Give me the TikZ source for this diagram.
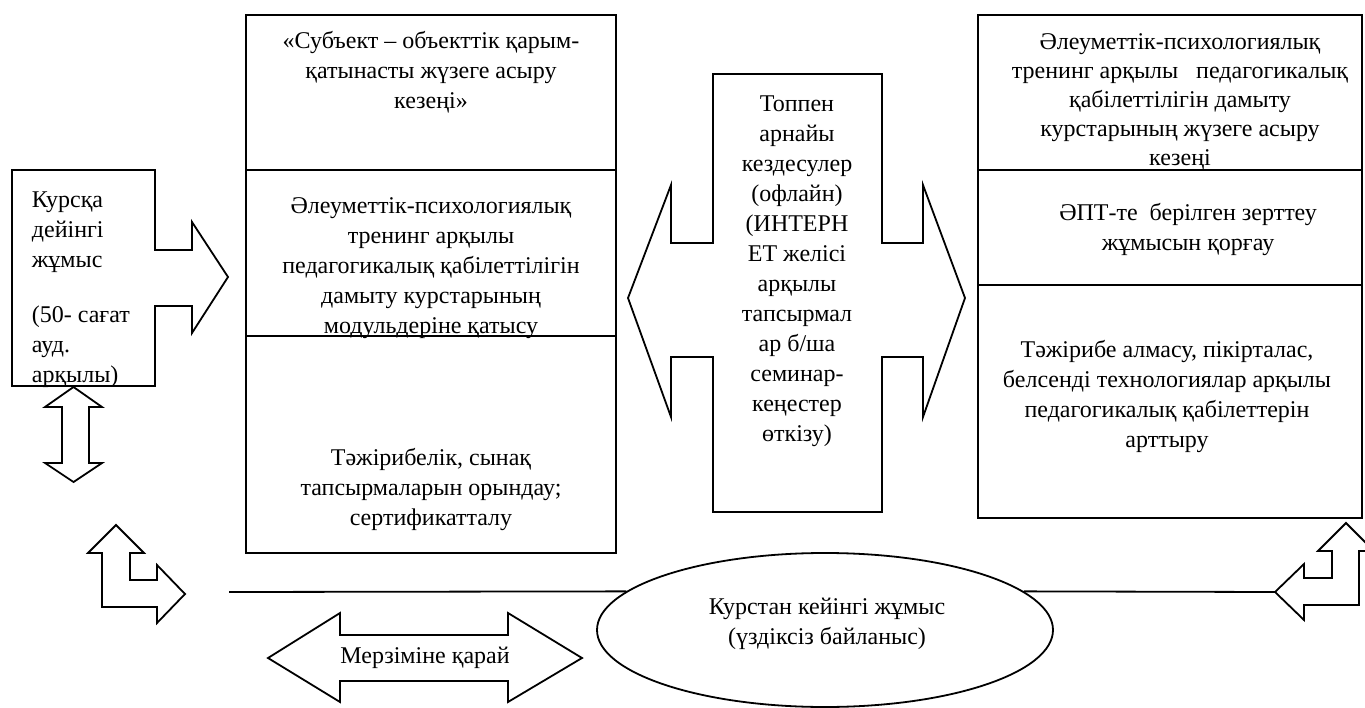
\documentclass[tikz,border=0pt]{standalone}
\usepackage{fontspec}
\setmainfont{Liberation Serif}
\usetikzlibrary{shapes.geometric}

\begin{document}
\begin{tikzpicture}
  [x=1pt,y=-1pt,line width=1.8pt,line join=miter,
   every node/.style={font=\fontsize{24}{30}\selectfont,inner sep=0pt},
   txt/.style={align=center}]
    \useasboundingbox (0,0) rectangle (1365,708);

    % left box with arrow
    \draw (12,170) -- (155,170) -- (155,250) -- (192,250) -- (192,222) -- (228,277)
          -- (192,333) -- (192,306) -- (155,306) -- (155,386) -- (12,386) -- cycle;
    \node (kurs) [align=left,anchor=west] at (31,290)
          {Курсқа\\дейінгі\\жұмыс\\[25pt](50- сағат\\ауд.\\арқылы)};

    % up-down arrow
    \draw (73.5,387) -- (102,407) -- (89,407) -- (89,463) -- (102,463) -- (73.5,482)
          -- (45,463) -- (62,463) -- (62,407) -- (45,407) -- cycle;

    % bent arrow, bottom left
    \draw (116,525) -- (144,553) -- (130,553) -- (130,580) -- (157,580) -- (157,565)
          -- (185,594) -- (157,623) -- (157,607) -- (102,607) -- (102,553) -- (88,553) -- cycle;

    % bent arrow, bottom right
    \draw (1346,523) -- (1374,551) -- (1359,551) -- (1359,605) -- (1304,605) -- (1304,620)
          -- (1275,592) -- (1304,564) -- (1304,578) -- (1332,578) -- (1332,551) -- (1318,551) -- cycle;

    % left column
    \draw (246,15) rectangle (616,553);
    \foreach \y in {170,336}
      \draw (246,\y) -- (616,\y);
    \node (subj)  [txt] at (431,72)  {«Субъект – объекттік қарым-\\қатынасты жүзеге асыру\\кезеңі»};
    \node (modul) [txt] at (431,268) {Әлеуметтік-психологиялық\\тренинг арқылы\\педагогикалық қабілеттілігін\\дамыту курстарының\\модульдеріне қатысу};
    \node (sert)  [txt] at (431,489) {Тәжірибелік, сынақ\\тапсырмаларын орындау;\\сертификатталу};

    % central cross
    \draw (713,74) -- (882,74) -- (882,243) -- (923,243) -- (923,185) -- (965,298)
          -- (923,417) -- (923,357) -- (882,357) -- (882,512) -- (713,512) -- (713,357)
          -- (671,357) -- (671,417) -- (628,298) -- (671,185) -- (671,243) -- (713,243) -- cycle;
    \node (toppen) [txt] at (797,271)
          {Топпен\\арнайы\\кездесулер\\(офлайн)\\(ИНТЕРН\\ЕТ желісі\\арқылы\\тапсырмал\\ар б/ша\\семинар-\\кеңестер\\өткізу)};

    % right column
    \draw (978,15) rectangle (1362,518);
    \foreach \y in {170,285}
      \draw (978,\y) -- (1362,\y);
    \node (kezen) [txt,font=\fontsize{24}{29}\selectfont] at (1180,102)
          {Әлеуметтік-психологиялық\\тренинг арқылы\ \ \ педагогикалық\\қабілеттілігін дамыту\\курстарының жүзеге асыру\\кезеңі};
    \node (ept)   [txt] at (1188,230) {ӘПТ-те\ \ берілген зерттеу\\жұмысын қорғау};
    \node (tajir) [txt] at (1167,396) {Тәжірибе алмасу, пікірталас,\\белсенді технологиялар арқылы\\педагогикалық қабілеттерін\\арттыру};

    % bottom
    \draw (268,658) -- (340,613) -- (340,635) -- (508,635) -- (508,613) -- (582,658)
          -- (508,702) -- (508,681) -- (340,681) -- (340,702) -- cycle;
    \node (merz) [txt] at (425,658) {Мерзіміне қарай};

    \node (post) [ellipse,draw,minimum width=456pt,minimum height=154pt] at (825,630) {};
    \node (posttxt) [txt] at (827,624) {Курстан кейінгі жұмыс\\(үздіксіз байланыс)};

    \coordinate (lline) at (229,592);
    \coordinate (rtip)  at (1275,592);
    \draw (lline) -- (post.169);
    \draw (post.11) -- (rtip);
  \end{tikzpicture}
\end{document}
